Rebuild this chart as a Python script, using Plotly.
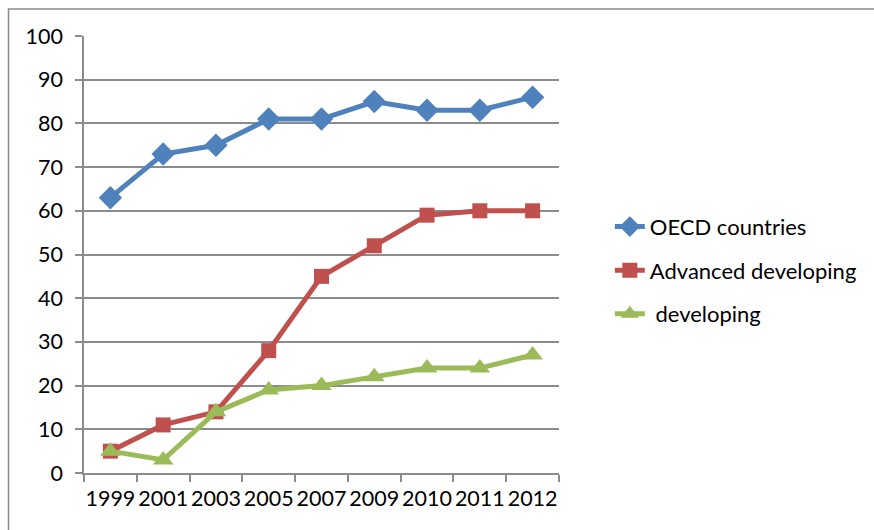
import plotly.graph_objects as go

# Survey years shown along the category axis
years = ["1999", "2001", "2003", "2005", "2007", "2009", "2010", "2011", "2012"]

# Share values per country group
oecd = [63, 73, 75, 81, 81, 85, 83, 83, 86]
advanced_developing = [5, 11, 14, 28, 45, 52, 59, 60, 60]
developing = [5, 3, 14, 19, 20, 22, 24, 24, 27]

y_ticks = [0, 10, 20, 30, 40, 50, 60, 70, 80, 90, 100]

W, H = 874, 530
FONT = "Lato"
GRID = "#8c8c8c"

fig = go.Figure()

series = [
    ("OECD countries", oecd, "#4F81BD", "diamond", 18),
    ("Advanced developing", advanced_developing, "#C0504D", "square", 15),
    (" developing", developing, "#9BBB59", "triangle-up", 18),
]
for i, (name, vals, color, symbol, size) in enumerate(series):
    fig.add_trace(go.Scatter(
        x=years, y=vals, name=name, mode="lines+markers",
        line=dict(color=color, width=5),
        marker=dict(symbol=symbol, size=size, color=color),
        legendgroup=f"g{i}",
    ))

fig.update_layout(
    width=W, height=H,
    margin=dict(l=84, r=315, t=35.5, b=56.5),
    paper_bgcolor="white", plot_bgcolor="white",
    font=dict(family=FONT, size=21.5, color="#000000"),
    showlegend=True,
    legend=dict(
        x=1.107, y=0.464, xanchor="left", yanchor="middle",
        traceorder="grouped", tracegroupgap=12,
        font=dict(family=FONT, size=22, color="#000000"),
        bgcolor="rgba(0,0,0,0)", itemwidth=30,
    ),
    xaxis=dict(
        type="category", range=[-0.5, 8.5], automargin=False,
        showgrid=False, showline=True, linecolor=GRID, linewidth=1.5,
        ticks="outside", tickson="boundaries", ticklen=7, tickcolor=GRID,
        tickwidth=1.5, tickfont=dict(size=21.5), tickangle=0, zeroline=False,
        ticklabelstandoff=5,
    ),
    yaxis=dict(
        range=[0, 100], tickvals=y_ticks, automargin=False,
        showgrid=True, gridcolor=GRID, gridwidth=1.5,
        showline=True, linecolor=GRID, linewidth=1.5,
        ticks="outside", ticklen=7, tickcolor=GRID, tickwidth=1.5,
        tickfont=dict(size=21.5), zeroline=False,
        ticklabelstandoff=8,
    ),
    shapes=[
        # chart frame (runs off the right and bottom edges)
        dict(type="rect", xref="paper", yref="paper",
             x0=-75.5 / 475, x1=1.8, y0=-0.3, y1=(473.5 - 8.5) / 438,
             line=dict(color="#8a8a8a", width=1.5), layer="below"),
    ],
)

fig.write_html("out.html")
